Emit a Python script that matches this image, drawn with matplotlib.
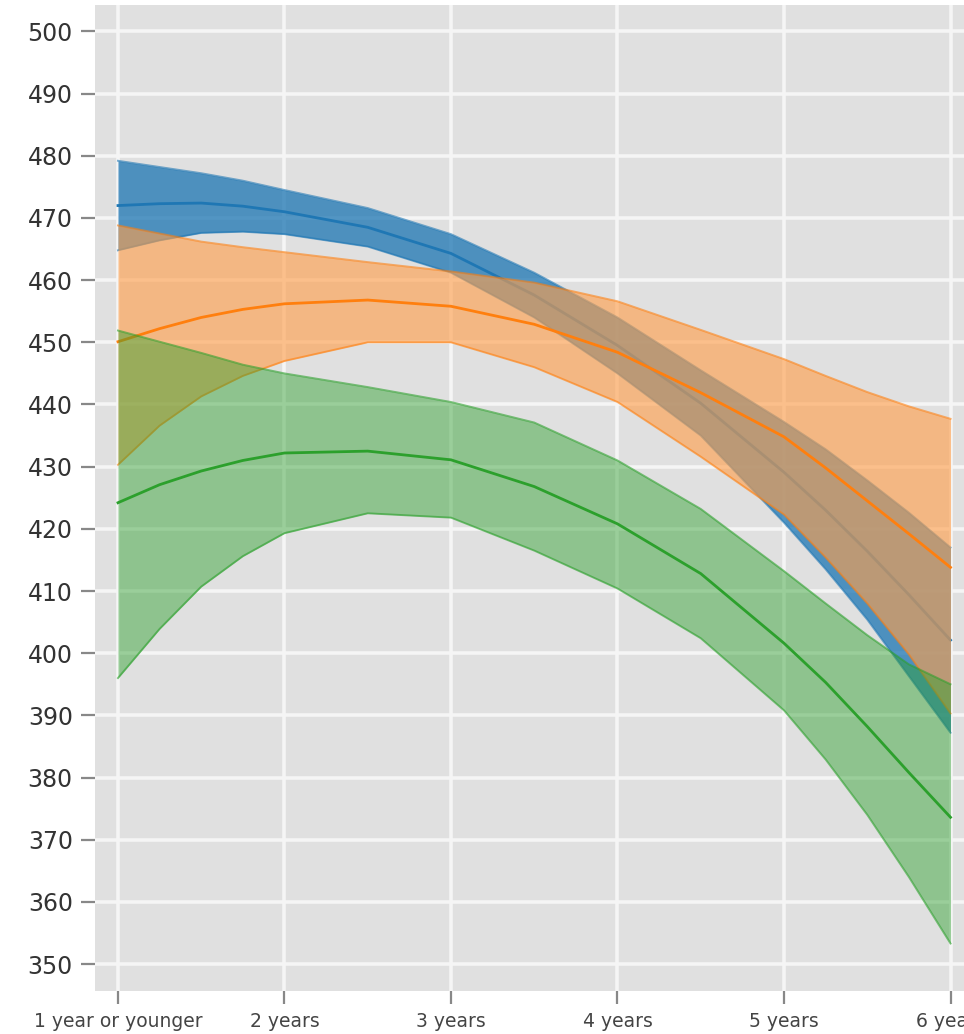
import matplotlib
matplotlib.use("Agg")
import matplotlib.pyplot as plt

# x tick categories
categories = ["1 year or younger", "2 years", "3 years", "4 years", "5 years", "6 years"]
cat_pos = [1, 2, 3, 4, 5, 6]

ages = [1.0, 1.25, 1.5, 1.75, 2.0, 2.5, 3.0, 3.5, 4.0, 4.5, 5.0, 5.25, 5.5, 5.75, 6.0]

blue_mid = [472.0, 472.3, 472.4, 471.9, 471.0, 468.5, 464.3, 457.6, 449.5, 440.2,
            429.1, 423.0, 416.4, 409.4, 402.1]
blue_hi = [479.2, 478.2, 477.2, 476.0, 474.5, 471.6, 467.4, 461.2, 454.0, 445.5,
           437.2, 432.8, 427.8, 422.6, 417.0]
blue_lo = [464.8, 466.4, 467.6, 467.8, 467.4, 465.4, 461.2, 454.0, 445.0, 435.0,
           421.0, 413.5, 405.4, 396.3, 387.2]

orange_mid = [450.1, 452.2, 454.0, 455.3, 456.2, 456.8, 455.8, 452.9, 448.4, 441.9,
              434.8, 429.8, 424.5, 419.2, 413.8]
orange_hi = [468.8, 467.5, 466.2, 465.3, 464.5, 462.9, 461.4, 459.6, 456.6, 452.0,
             447.3, 444.6, 442.0, 439.7, 437.7]
orange_lo = [430.3, 436.6, 441.3, 444.6, 447.0, 450.0, 450.0, 446.0, 440.4, 431.6,
             422.3, 415.4, 408.0, 399.8, 390.3]

green_mid = [424.2, 427.1, 429.3, 431.0, 432.2, 432.5, 431.1, 426.8, 420.8, 412.8,
             401.6, 395.3, 388.2, 380.8, 373.6]
green_hi = [451.9, 450.1, 448.3, 446.4, 445.0, 442.8, 440.4, 437.1, 431.0, 423.2,
            413.2, 408.0, 402.9, 398.2, 395.0]
green_lo = [396.0, 403.9, 410.7, 415.6, 419.3, 422.5, 421.8, 416.5, 410.4, 402.4,
            390.8, 382.9, 374.0, 364.0, 353.3]

y_ticks = list(range(350, 501, 10))

series = [
    (blue_lo, blue_mid, blue_hi, "#1f77b4", "#1f77b4", 0.76),
    (orange_lo, orange_mid, orange_hi, "#ff9f4a", "#ff7f0e", 0.62),
    (green_lo, green_mid, green_hi, "#2ca02c", "#2ca02c", 0.45),
]

W, H = 964, 1034
fig = plt.figure(figsize=(W / 100, H / 100), dpi=100)
fig.patch.set_facecolor("white")
left, right, top, bottom = 95, 964, 5, 991
ax = fig.add_axes([left / W, (H - bottom) / H, (right - left) / W, (bottom - top) / H])
ax.set_facecolor("#e0e0e0")

for lo, mid, hi, fill_c, line_c, a in series:
    ax.fill_between(ages, lo, hi, color=fill_c, alpha=a, linewidth=0, zorder=2)
    ax.plot(ages, hi, color=line_c, alpha=0.6, linewidth=1.4, zorder=2)
    ax.plot(ages, lo, color=line_c, alpha=0.6, linewidth=1.4, zorder=2)
    ax.plot(ages, mid, color=line_c, linewidth=2.0, zorder=2)

ax.set_xlim(0.862, 6.081)
ax.set_ylim(345.66, 504.26)
ax.set_xticks(cat_pos)
ax.set_xticklabels(categories)
ax.set_yticks(y_ticks)
ax.set_yticklabels([str(v) for v in y_ticks])

ax.grid(True, color="#f5f5f5", linewidth=2.6, zorder=1)
ax.set_axisbelow(True)
for s in ax.spines.values():
    s.set_visible(False)

ax.tick_params(axis="y", length=10, width=1.6, color="#888888", pad=6,
               labelsize=17, labelcolor="#333333")
ax.tick_params(axis="x", length=9, width=1.6, color="#888888", pad=6,
               labelsize=13.5, labelcolor="#444444")

fig.savefig("out.png", dpi=100, facecolor="white")
